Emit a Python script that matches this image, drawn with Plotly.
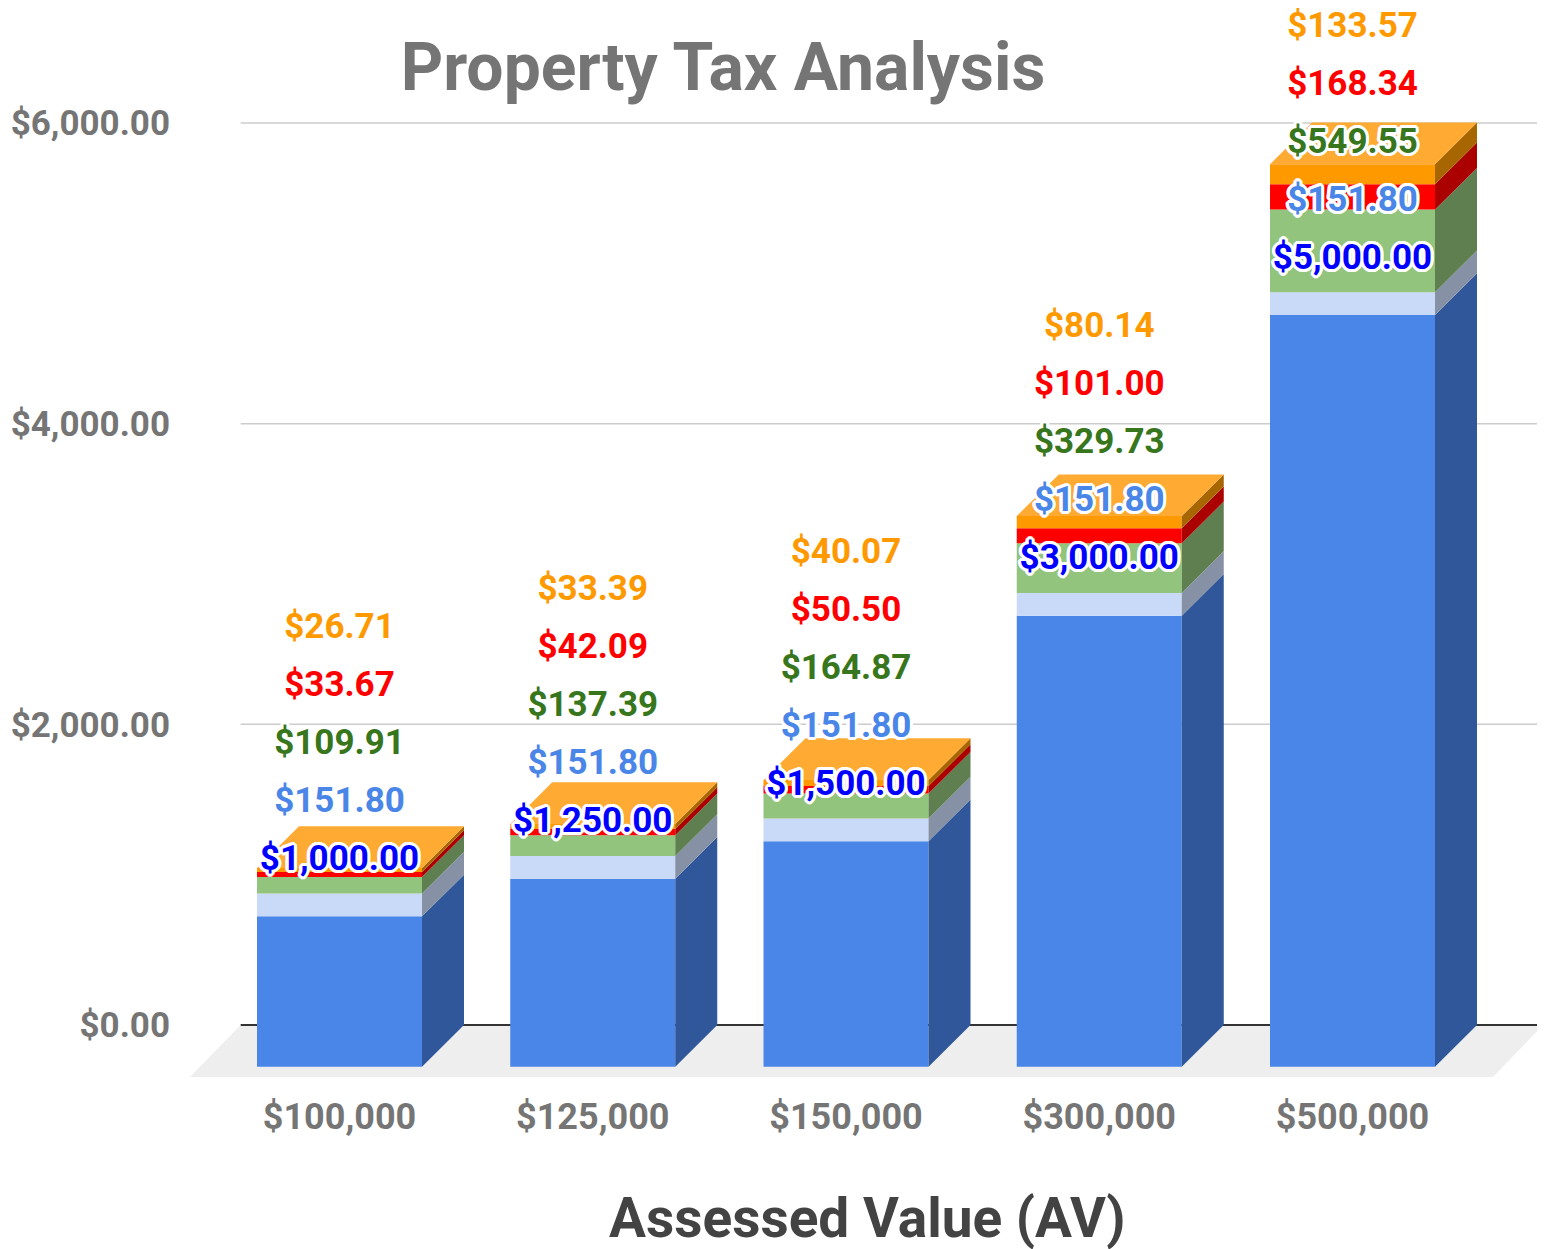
import plotly.graph_objects as go

# ---------------- data ----------------
categories = ["$100,000", "$125,000", "$150,000", "$300,000", "$500,000"]
base_tax = [1000.00, 1250.00, 1500.00, 3000.00, 5000.00]
flat_fee = [151.80, 151.80, 151.80, 151.80, 151.80]
levy_a = [109.91, 137.39, 164.87, 329.73, 549.55]
levy_b = [33.67, 42.09, 50.50, 101.00, 168.34]
levy_c = [26.71, 33.39, 40.07, 80.14, 133.57]
y_tick_values = [0, 2000, 4000, 6000]
y_tick_labels = ["$0.00", "$2,000.00", "$4,000.00", "$6,000.00"]

# name, values, front colour, side colour, label colour
series = [
    ("Base Tax", base_tax, "#4a86e8", "#30579a", "#0000ff"),
    ("Flat Fee", flat_fee, "#c9daf8", "#8691a6", "#4a86e8"),
    ("Levy A", levy_a, "#93c47d", "#5f7f51", "#38761d"),
    ("Levy B", levy_b, "#ff0000", "#aa0000", "#ff0000"),
    ("Levy C", levy_c, "#ff9900", "#a86600", "#ff9900"),
]
top_colour = "#ffab33"

# ---------------- geometry (window pixels -> figure / axis units) ----------------
OFF = 8                    # page body margin
W, H = 1545 - OFF, 1249 - OFF
plot_left, plot_right, plot_top, plot_bottom = 190, 1545, 8, 1077   # window px
ML = plot_left - OFF
MR = 0
MT = plot_top - OFF
MB = (1249 - plot_bottom)
plot_h = plot_bottom - plot_top
cat_px = 253.25            # pixels between category centres
first_px = 339.5           # window x of first category centre
k = 902 / 6000             # pixels per dollar
zero_px = 1025             # window y of $0 on back wall

xr = [(plot_left - first_px) / cat_px, (plot_right - first_px) / cat_px]
yr = [-(plot_bottom - zero_px) / k, (zero_px - plot_top) / k]

DX = 42 / cat_px           # 3D depth (x)
DY = 41.7 / k              # 3D depth (y, dollars)
BW = 165 / cat_px          # bar width
lab_off = 13.5 / k
lab_gap = 58.0 / k

xs = list(range(len(categories)))

fig = go.Figure()

# front faces
cum = [0.0] * len(xs)
side_polys = []
for name, vals, fc, sc, lc in series:
    fig.add_trace(go.Bar(
        x=xs, y=vals, base=[c - DY for c in cum], width=BW, name=name,
        marker=dict(color=fc, line=dict(width=0)), hoverinfo="skip",
        showlegend=False))
    px_, py_ = [], []
    for i, v in enumerate(vals):
        x_r = i + BW / 2
        c0, c1 = cum[i], cum[i] + v
        px_ += [x_r, x_r, x_r + DX, x_r + DX, x_r, None]
        py_ += [c0 - DY, c1 - DY, c1, c0, c0 - DY, None]
    side_polys.append((px_, py_, sc, name))
    cum = [c + v for c, v in zip(cum, vals)]

# side faces
for px_, py_, sc, name in side_polys:
    fig.add_trace(go.Scatter(
        x=px_, y=py_, mode="lines", fill="toself", fillcolor=sc,
        line=dict(width=0, color=sc), hoverinfo="skip", showlegend=False))

# top faces
tx, ty = [], []
for i, t in enumerate(cum):
    x_l = i - BW / 2
    x_r = i + BW / 2
    tx += [x_l, x_r, x_r + DX, x_l + DX, x_l, None]
    ty += [t - DY, t - DY, t, t, t - DY, None]
fig.add_trace(go.Scatter(
    x=tx, y=ty, mode="lines", fill="toself", fillcolor=top_colour,
    line=dict(width=0, color=top_colour), hoverinfo="skip", showlegend=False))

# data labels (white halo)
offs = [(2, 0), (-2, 0), (0, 2), (0, -2), (2, 2), (-2, -2), (2, -2), (-2, 2),
        (3, 0), (-3, 0), (0, 3), (0, -3), (1, 3), (-1, 3), (1, -3), (-1, -3),
        (3, 1), (3, -1), (-3, 1), (-3, -1)]
outline = ", ".join(f"{a}px {b}px 0 #fff" for a, b in offs)
for j, (name, vals, fc, sc, lc) in enumerate(series):
    fig.add_trace(go.Scatter(
        x=xs, y=[b + lab_off + j * lab_gap for b in base_tax],
        mode="text", text=["${:,.2f}".format(v) for v in vals],
        textposition="middle center", cliponaxis=False,
        textfont=dict(family="Roboto", size=35, color=lc, weight="bold",
                      shadow=outline),
        hoverinfo="skip", showlegend=False))

# floor, gridlines
back_left = (240.7 - first_px) / cat_px
back_right = (1543 - first_px) / cat_px
front_right = (1493 - first_px) / cat_px
shapes = [dict(type="path", layer="below", xref="x", yref="y",
               path=f"M {xr[0]} {yr[0]} L {back_left} 0 L {back_right} 0 "
                    f"L {front_right} {yr[0]} Z",
               fillcolor="#eeeeee", line=dict(width=0))]
for v in y_tick_values:
    shapes.append(dict(type="line", layer="below", xref="x", yref="y",
                       x0=back_left, x1=xr[1], y0=v, y1=v,
                       line=dict(color="#333333" if v == 0 else "#cccccc",
                                 width=2 if v == 0 else 1.5)))

fig.update_layout(
    width=W, height=H, barmode="overlay",
    margin=dict(l=ML, r=MR, t=MT, b=MB, pad=0),
    paper_bgcolor="white", plot_bgcolor="white",
    font=dict(family="Roboto", color="#757575"),
    shapes=shapes,
    title=dict(text="Property Tax Analysis", x=(723 - OFF) / W, xref="container",
               xanchor="center", y=1 - (67 - OFF) / H, yref="container",
               yanchor="middle",
               font=dict(family="Roboto", size=66, color="#757575",
                         weight="bold")),
    xaxis=dict(range=xr, tickvals=xs, ticktext=categories, showgrid=False,
               zeroline=False, showline=False, ticks="",
               ticklabelstandoff=15,
               tickfont=dict(family="Roboto", size=36, color="#757575",
                             weight="bold")),
    yaxis=dict(range=yr, tickvals=y_tick_values, ticktext=y_tick_labels,
               showgrid=False, zeroline=False, showline=False, ticks="",
               ticklabelstandoff=19,
               tickfont=dict(family="Roboto", size=35, color="#757575",
                             weight="bold")),
    annotations=[dict(text="Assessed Value (AV)", xref="paper", yref="paper",
                      x=0.5, y=-(1218 - plot_bottom) / plot_h,
                      xanchor="center", yanchor="middle", showarrow=False,
                      font=dict(family="Roboto", size=55, color="#434343",
                                weight="bold"))],
)

fig.write_html("out.html")
